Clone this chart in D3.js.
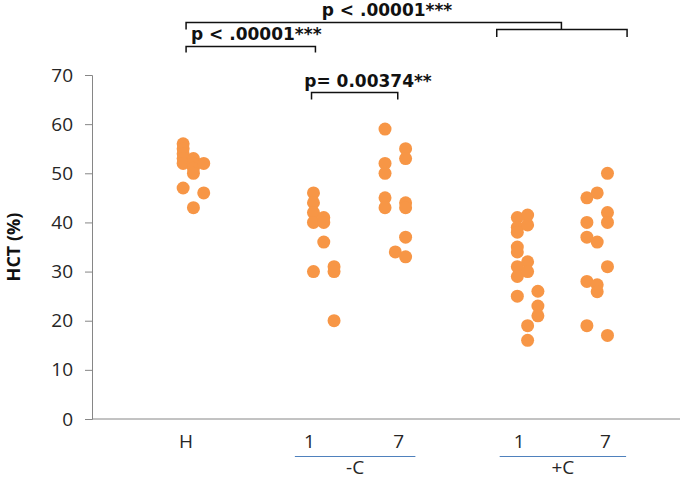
<!DOCTYPE html>
<html>
<head>
<meta charset="utf-8">
<script src="https://cdn.jsdelivr.net/npm/d3@7"></script>
<style>
	body { margin: 0; background: #fff; }
	svg { display: block; font-family: "Open Sans", sans-serif; }
</style>
</head>
<body>
<svg id="chart" width="700" height="479"></svg>
<script>
// values (HCT %), one array per group
var groupNames = ["H", "-C 1", "-C 7", "+C 1", "+C 7"];
var groupX = [9.3, 22.6, 29.9, 43.4, 50.5]; // x value of first column in each group

var hValues   = [56, 55, 54, 53, 52, 47, 53, 52, 51, 50, 43, 52, 46];
var hSlots    = [0, 0, 0, 0, 0, 0, 1, 1, 1, 1, 1, 2, 2];
var minusC1   = [46, 44, 42, 40, 30, 41, 40, 36, 31, 30, 20];
var minusC1S  = [0, 0, 0, 0, 0, 1, 1, 1, 2, 2, 2];
var minusC7   = [59, 52, 50, 45, 43, 34, 55, 53, 44, 43, 37, 33];
var minusC7S  = [0, 0, 0, 0, 0, 1, 2, 2, 2, 2, 2, 2];
var plusC1    = [41, 39, 38, 35, 34, 31, 29, 25, 41.5, 39.5, 32, 30, 19, 16, 26, 23, 21];
var plusC1S   = [0, 0, 0, 0, 0, 0, 0, 0, 1, 1, 1, 1, 1, 1, 2, 2, 2];
var plusC7    = [45, 40, 37, 28, 19, 46, 36, 27.3, 25.9, 50, 42, 40, 31, 17];
var plusC7S   = [0, 0, 0, 0, 0, 1, 1, 1, 1, 2, 2, 2, 2, 2];

var yTicks = [0, 10, 20, 30, 40, 50, 60, 70];
var dayLabels = ["H", "1", "7", "1", "7"];
var dayLabelX = [9.6, 22.2, 31.3, 43.6, 52.4];
var treatLabels = ["-C", "+C"];
var treatSpans = [[20.7, 33.0], [41.6, 54.5]];

// significance brackets
var pLabels = ["p < .00001***", "p < .00001***", "p= 0.00374**"];
var pSpans = [[9.6, 47.9], [9.6, 22.8], [22.4, 31.2]];
var subSpan = [41.3, 54.6]; // +C group bracket hanging off the top one

var svg = d3.select("#chart");
var orange = "#F79646";

var x = d3.scaleLinear().domain([0, 60]).range([92, 680]);
var y = d3.scaleLinear().domain([0, 70]).range([419, 75]);

// y axis
var yAxis = d3.axisLeft(y).tickValues(yTicks).tickSize(7).tickPadding(12);
var gy = svg.append("g").attr("transform", "translate(92,0)").call(yAxis);
gy.select(".domain").attr("stroke", "#868686");
gy.selectAll(".tick line").attr("stroke", "#868686");
gy.selectAll(".tick text")
	.attr("font-size", 19)
	.attr("font-family", "Open Sans, sans-serif")
	.attr("fill", "#262626");

// x axis line
svg.append("line")
	.attr("x1", x(0)).attr("x2", x(60))
	.attr("y1", y(0)).attr("y2", y(0))
	.attr("stroke", "#868686");

svg.append("text")
	.attr("transform", "translate(20," + y(35) + ") rotate(-90)")
	.attr("text-anchor", "middle")
	.attr("font-size", 18)
	.attr("font-weight", "bold")
	.attr("fill", "#111")
	.text("HCT (%)");

// points
var sets = [
	[hValues, hSlots],
	[minusC1, minusC1S],
	[minusC7, minusC7S],
	[plusC1, plusC1S],
	[plusC7, plusC7S]
];
var points = [];
sets.forEach(function (s, g) {
	s[0].forEach(function (v, i) {
		points.push({ group: groupNames[g], x: groupX[g] + s[1][i] * 1.05, v: v });
	});
});

svg.append("g").selectAll("circle")
	.data(points)
	.enter().append("circle")
	.attr("cx", function (d) { return x(d.x); })
	.attr("cy", function (d) { return y(d.v); })
	.attr("r", 6.5)
	.attr("fill", orange);

// category labels
svg.append("g").selectAll("text")
	.data(dayLabels)
	.enter().append("text")
	.attr("x", function (d, i) { return x(dayLabelX[i]); })
	.attr("y", 448)
	.attr("text-anchor", "middle")
	.attr("font-size", 19)
	.attr("fill", "#262626")
	.text(function (d) { return d; });

treatLabels.forEach(function (t, i) {
	var s = treatSpans[i];
	svg.append("line")
		.attr("x1", x(s[0])).attr("x2", x(s[1]))
		.attr("y1", 456.5).attr("y2", 456.5)
		.attr("stroke", "#4F81BD");
	svg.append("text")
		.attr("x", x((s[0] + s[1]) / 2))
		.attr("y", 474)
		.attr("text-anchor", "middle")
		.attr("font-size", 19)
		.attr("fill", "#262626")
		.text(t);
});

// brackets: y level of the bar, depth of the end ticks, text position
var bracketY = [22.5, 46.5, 92.5];
var bracketDrop = [7, 6, 7];
var labelY = [16, 40, 87];
var labelX = [387, 191, 368];
var labelAnchor = ["middle", "start", "middle"];

var line = d3.line();
pSpans.forEach(function (s, i) {
	var x0 = x(s[0]), x1 = x(s[1]), by = bracketY[i], dy = bracketDrop[i];
	svg.append("path")
		.attr("d", line([[x0, by + dy], [x0, by], [x1, by], [x1, by + dy]]))
		.attr("fill", "none")
		.attr("stroke", "#111")
		.attr("stroke-width", 1.5);
	svg.append("text")
		.attr("x", labelX[i])
		.attr("y", labelY[i])
		.attr("text-anchor", labelAnchor[i])
		.attr("font-family", "DejaVu Sans, sans-serif")
		.attr("font-size", 17)
		.attr("font-weight", "bold")
		.attr("fill", "#111")
		.text(pLabels[i]);
});

// sub bracket under the top one
svg.append("path")
	.attr("d", line([[x(subSpan[0]), 37], [x(subSpan[0]), 29.5], [x(subSpan[1]), 29.5], [x(subSpan[1]), 37]]))
	.attr("fill", "none")
	.attr("stroke", "#111")
	.attr("stroke-width", 1.5);
</script>
</body>
</html>
